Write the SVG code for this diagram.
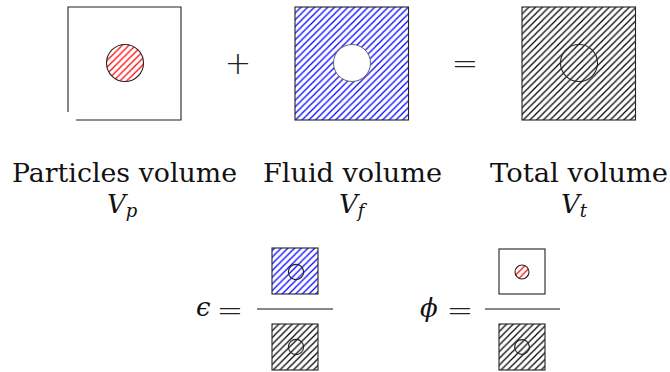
<svg xmlns="http://www.w3.org/2000/svg" width="670" height="372" viewBox="0 0 670 372">
<style>
.box{stroke:#222;stroke-width:1.1}
.nofill{fill:none}
.circ{stroke:#222;stroke-width:1.1}
.txt{font-family:"DejaVu Serif",serif;fill:#111}
.it{font-family:"DejaVu Serif",serif;font-style:italic;fill:#111}
.op{font-family:"DejaVu Sans","DejaVu Serif",sans-serif;fill:#222;font-weight:200}
.frac{stroke:#111;stroke-width:1.1}
.hb{fill:url(#hb)}
.hk{fill:url(#hk)}
.hr{fill:url(#hr)}
</style>
<defs>
<pattern id="hb" patternUnits="userSpaceOnUse" width="6.7" height="6.7">
<path d="M0,6.7 L6.7,0 M-1,1 L1,-1 M5.7,7.7 L7.7,5.7" stroke="#0000ff" stroke-width="1.2"/>
</pattern>
<pattern id="hk" patternUnits="userSpaceOnUse" width="6.7" height="6.7">
<path d="M0,6.7 L6.7,0 M-1,1 L1,-1 M5.7,7.7 L7.7,5.7" stroke="#000" stroke-width="1.2"/>
</pattern>
<pattern id="hr" patternUnits="userSpaceOnUse" width="6.7" height="6.7">
<path d="M0,6.7 L6.7,0 M-1,1 L1,-1 M5.7,7.7 L7.7,5.7" stroke="#ff0000" stroke-width="1.2"/>
</pattern>
</defs>

<g id="particles">
<path class="box nofill" d="M68,112 V7 H181 V120 H76"/>
<circle class="circ hr" cx="125" cy="63" r="18.5"/>
</g>
<g id="plus"><text class="op" x="238" y="74" font-size="32" text-anchor="middle">+</text></g>
<g id="fluid">
<rect class="box hb" x="295" y="7" width="113.5" height="113"/>
<circle cx="352" cy="63" r="18.5" fill="#fff" stroke="#666" stroke-width="1"/>
</g>
<g id="equals"><text class="op" x="465" y="73.5" font-size="32" text-anchor="middle">=</text></g>
<g id="total">
<rect class="box hk" x="522" y="7" width="113.5" height="113"/>
<circle class="circ nofill" cx="579" cy="63" r="18.5"/>
</g>

<g id="labels">
<text class="txt" x="124.5" y="182" font-size="26" text-anchor="middle" textLength="225" lengthAdjust="spacingAndGlyphs">Particles volume</text>
<text class="txt" x="352.5" y="182" font-size="26" text-anchor="middle" textLength="179" lengthAdjust="spacingAndGlyphs">Fluid volume</text>
<text class="txt" x="579" y="182" font-size="26" text-anchor="middle" textLength="178" lengthAdjust="spacingAndGlyphs">Total volume</text>
<text class="it" x="107" y="213" font-size="26">V<tspan font-size="18" dy="4">p</tspan></text>
<text class="it" x="339" y="213" font-size="26">V<tspan font-size="18" dy="4">f</tspan></text>
<text class="it" x="561" y="213" font-size="26">V<tspan font-size="18" dy="4">t</tspan></text>
</g>

<g id="porosity">
<text class="it" x="196" y="316" font-size="26">ϵ</text>
<text class="op" x="230" y="320.5" font-size="32" text-anchor="middle">=</text>
<rect class="box hb" x="272" y="248" width="46" height="46"/>
<circle class="circ nofill" cx="296" cy="272" r="7.6"/>
<line class="frac" x1="257" y1="309" x2="333" y2="309"/>
<rect class="box hk" x="272" y="324" width="46" height="46"/>
<circle class="circ nofill" cx="296" cy="347" r="7.6"/>
</g>

<g id="fraction">
<text class="it" x="420" y="317" font-size="26">ϕ</text>
<text class="op" x="460" y="320.5" font-size="32" text-anchor="middle">=</text>
<rect class="box nofill" x="499" y="249" width="46" height="45"/>
<circle class="circ hr" cx="522" cy="272" r="7"/>
<line class="frac" x1="485" y1="309" x2="560" y2="309"/>
<rect class="box hk" x="499" y="324" width="46" height="46"/>
<circle class="circ nofill" cx="522" cy="347" r="7.4"/>
</g>
</svg>
